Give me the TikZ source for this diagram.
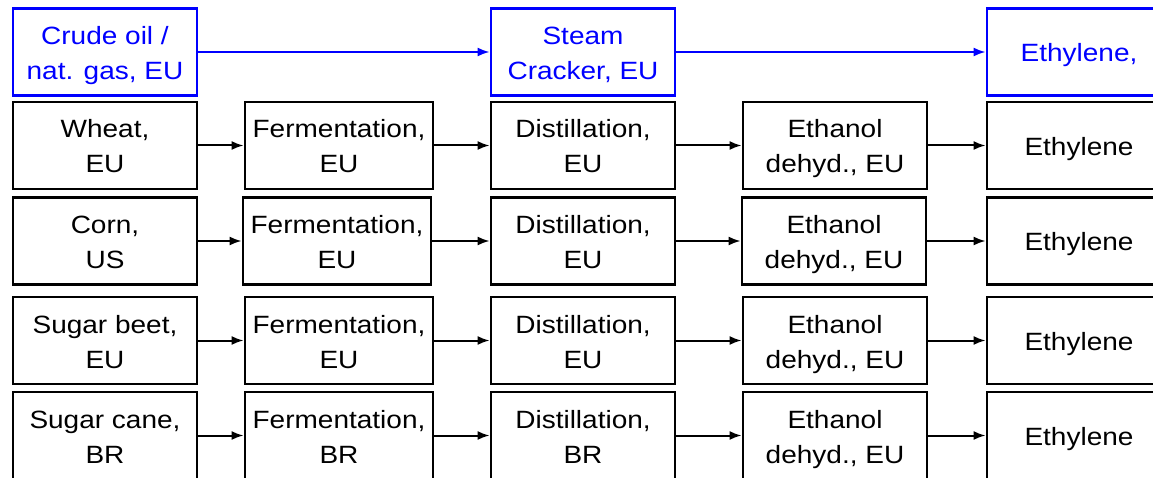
\documentclass[tikz,border=0pt]{standalone}
\usepackage{fontspec}
\setmainfont{Liberation Sans}[FakeStretch=1.12]
\usetikzlibrary{arrows.meta}

\tikzset{
  box/.style={draw, line width=2.8pt, minimum width=184pt, minimum height=87pt,
    inner sep=0pt, align=center, text height=55pt, text depth=0pt,
    font=\fontsize{25}{35}\selectfont},
  onebox/.style={box, text height=20pt},
  fossilbox/.style={box, draw=blue, text=blue},
  flow/.style={-{Latex[length=12pt,width=9pt]}, line width=2pt},
  fossilflow/.style={flow, draw=blue, fill=blue}
}

\begin{document}
\begin{tikzpicture}[x=1pt, y=-1pt]

\useasboundingbox (0,0) rectangle (1153,478);
\clip (0,0) rectangle (1153,478);

% fossil route
\node[fossilbox] (oil) at (105,52) {Crude oil /\\nat. gas, EU};
\node[fossilbox] (steam) at (583,52) {Steam\\Cracker, EU};
\node[fossilbox, onebox] (eth0) at (1079,52) {Ethylene,};

\draw[fossilflow] (oil) -- (steam);
\draw[fossilflow] (steam) -- (eth0);

% wheat
\node[box] (wheat) at (105,145.5) {Wheat,\\EU};
\node[box, minimum width=188pt] (ferm1) at (339,145.5) {Fermentation,\\EU};
\node[box] (dist1) at (583,145.5) {Distillation,\\EU};
\node[box] (dehyd1) at (835,145.5) {Ethanol\\dehyd., EU};
\node[onebox] (eth1) at (1079,145.5) {Ethylene};

\draw[flow] (wheat) -- (ferm1);
\draw[flow] (ferm1) -- (dist1);
\draw[flow] (dist1) -- (dehyd1);
\draw[flow] (dehyd1) -- (eth1);

% corn
\node[box] (corn) at (105,241) {Corn,\\US};
\node[box, minimum width=188pt] (ferm2) at (337,241) {Fermentation,\\EU};
\node[box] (dist2) at (583,241) {Distillation,\\EU};
\node[box] (dehyd2) at (834,241) {Ethanol\\dehyd., EU};
\node[onebox] (eth2) at (1079,241) {Ethylene};

\draw[flow] (corn) -- (ferm2);
\draw[flow] (ferm2) -- (dist2);
\draw[flow] (dist2) -- (dehyd2);
\draw[flow] (dehyd2) -- (eth2);

% sugar beet
\node[box] (beet) at (105,340.5) {Sugar beet,\\EU};
\node[box, minimum width=188pt] (ferm3) at (339,340.5) {Fermentation,\\EU};
\node[box] (dist3) at (583,340.5) {Distillation,\\EU};
\node[box] (dehyd3) at (835,340.5) {Ethanol\\dehyd., EU};
\node[onebox] (eth3) at (1079,340.5) {Ethylene};

\draw[flow] (beet) -- (ferm3);
\draw[flow] (ferm3) -- (dist3);
\draw[flow] (dist3) -- (dehyd3);
\draw[flow] (dehyd3) -- (eth3);

% sugar cane
\node[box] (cane) at (105,435.5) {Sugar cane,\\BR};
\node[box, minimum width=188pt] (ferm4) at (339,435.5) {Fermentation,\\BR};
\node[box] (dist4) at (583,435.5) {Distillation,\\BR};
\node[box] (dehyd4) at (835,435.5) {Ethanol\\dehyd., EU};
\node[onebox] (eth4) at (1079,435.5) {Ethylene};

\draw[flow] (cane) -- (ferm4);
\draw[flow] (ferm4) -- (dist4);
\draw[flow] (dist4) -- (dehyd4);
\draw[flow] (dehyd4) -- (eth4);

\end{tikzpicture}
\end{document}
